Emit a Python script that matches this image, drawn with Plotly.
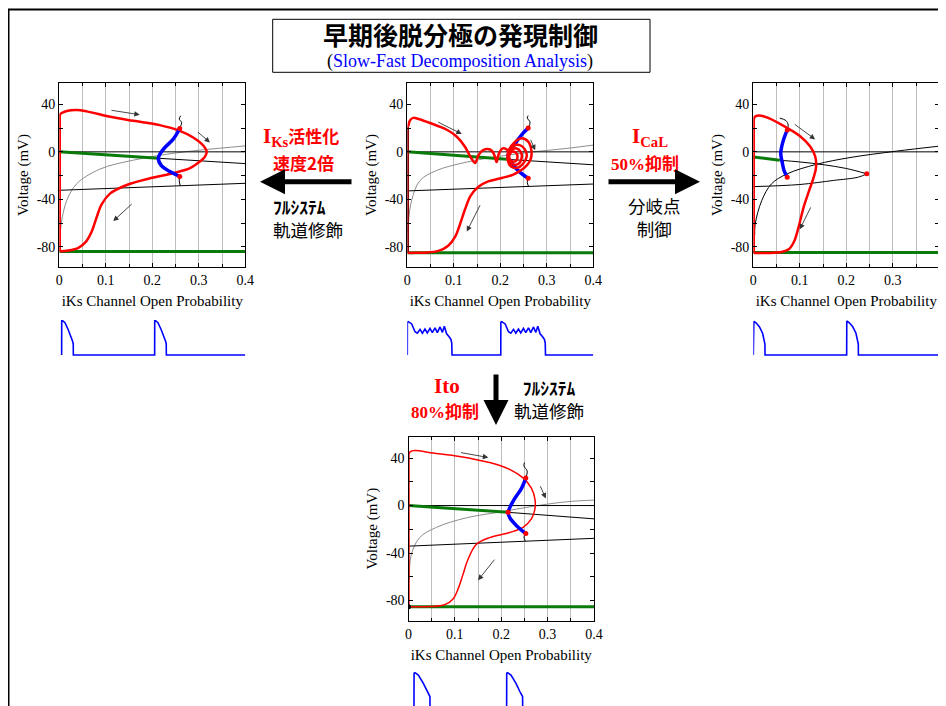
import plotly.graph_objects as go

W, H = 938, 698          # figure size; page body margin puts it at (8, 8) in the window
OFF = 8
SERIF = "Liberation Serif"
CJK = "Noto Sans CJK JP"

# ---------------- data ----------------
X_TICKS = [0, 0.1, 0.2, 0.3, 0.4]
X_TICK_TEXT = ["0", "0.1", "0.2", "0.3", "0.4"]
Y_TICKS = [-80, -40, 0, 40]
Y_TICK_TEXT = ["-80", "-40", "0", "40"]
X_TITLE = "iKs Channel Open Probability"
Y_TITLE = "Voltage (mV)"

# Panel 1 : IKs activation x2
P1_H_X = [0, 0.4]; P1_H_Y = [0, 0]
P1_DG_X = [0, 0.213]; P1_DG_Y = [0, -5.4]
P1_DB_X = [0.213, 0.4]; P1_DB_Y = [-5.4, -9.9]
P1_LOW_X = [0, 0.4]; P1_LOW_Y = [-32.4, -26.5]
P1_GRAY_X = [0.003, 0.005, 0.016, 0.037, 0.087, 0.159, 0.231, 0.302, 0.4]
P1_GRAY_Y = [-65, -58, -41, -27, -14.6, -7, -2, 1.4, 5]
P1_BLUE_X = [0.259, 0.245, 0.224, 0.213, 0.220, 0.238, 0.259]
P1_BLUE_Y = [19.7, 10.7, 2.3, -5.4, -11.8, -16.6, -20.8]
P1_TT_X = [0.259, 0.263, 0.258, 0.261]; P1_TT_Y = [19.7, 24.8, 27.6, 30.4]
P1_TB_X = [0.259, 0.258, 0.260]; P1_TB_Y = [-20.8, -24.5, -28.7]
P1_GB_X = [0, 0.4]; P1_GB_Y = [-84, -84]
P1_UP_X = [0.001, 0.001]; P1_UP_Y = [-83.7, 31.8]
P1_TR_X = [0.001, 0.005, 0.016, 0.037, 0.059, 0.109, 0.159, 0.216, 0.259, 0.288, 0.310, 0.317, 0.313,
           0.302, 0.281, 0.245, 0.195, 0.145, 0.109, 0.091, 0.080, 0.070, 0.057, 0.041, 0.019, 0.001]
P1_TR_Y = [31.8, 32.7, 34.4, 35.2, 34.1, 29.6, 26.2, 22.5, 17.7, 12.1, 5.1, 0, -4.2,
           -8.2, -13.8, -18.0, -22.3, -27.9, -35.2, -44.2, -55.5, -66.8, -75.8, -80.8, -83.1, -83.7]
P1_DOT_X = [0.259, 0.259]; P1_DOT_Y = [19.7, -20.8]
P1_ARR_TAIL_X = [0.109, 0.295, 0.159]; P1_ARR_TAIL_Y = [35.2, 17.7, -42.8]
P1_ARR_HEAD_X = [0.173, 0.324, 0.116]; P1_ARR_HEAD_Y = [31.3, 7.9, -58.3]

# Panel 2 : control (EAD)
P2_H_X = [0, 0.4]; P2_H_Y = [0, 0]
P2_DG_X = [0, 0.214]; P2_DG_Y = [0, -6.3]
P2_DB_X = [0.214, 0.4]; P2_DB_Y = [-6.3, -10.9]
P2_LOW_X = [0, 0.4]; P2_LOW_Y = [-32.9, -27.1]
P2_GRAY_X = [0.001, 0.002, 0.009, 0.027, 0.063, 0.128, 0.199, 0.271, 0.343, 0.4]
P2_GRAY_Y = [-68, -61.4, -41.4, -24.3, -15.7, -8.6, -3.7, 0, 2.9, 5.7]
P2_BLUE_X = [0.260, 0.249, 0.232, 0.219, 0.217, 0.228, 0.242, 0.260]
P2_BLUE_Y = [20, 15.7, 7.1, 0, -4.9, -11.4, -17.1, -22.3]
P2_TT_X = [0.260, 0.264, 0.258, 0.260]; P2_TT_Y = [20, 24.9, 28.6, 30.6]
P2_TB_X = [0.260, 0.258, 0.261]; P2_TB_Y = [-22.3, -25.7, -29.4]
P2_GB_X = [0, 0.4]; P2_GB_Y = [-85, -85]
P2_UP_X = [0.001, 0.001]; P2_UP_Y = [-85.1, 21.4]
P2_TR_X = [0.002, 0.006, 0.013, 0.024, 0.049, 0.085, 0.106, 0.124, 0.136, 0.146, 0.153, 0.163, 0.178,
           0.186, 0.192, 0.197, 0.205, 0.214, 0.219, 0.224, 0.233, 0.237, 0.232, 0.222, 0.219, 0.224,
           0.235, 0.244, 0.246, 0.239, 0.227, 0.218, 0.219, 0.228, 0.242, 0.253, 0.257, 0.249, 0.237,
           0.223, 0.216, 0.218, 0.232, 0.246, 0.260, 0.267, 0.265, 0.257, 0.246, 0.228, 0.203, 0.174,
           0.153, 0.136, 0.124, 0.113, 0.103, 0.088, 0.067, 0.038, 0.013, 0.001]
P2_TR_Y = [21.4, 26.6, 28.6, 27.7, 24.3, 18.6, 12.9, 4.3, -4.3, -9.4, -2.9, 1.4, 2.0,
           -1.4, -8.6, -1.4, 2.9, 2.0, -2.9, 0, -0.6, -4.3, -8.0, -7.1, -3.7, 1.4,
           2.9, 0, -4.9, -10.0, -10.6, -6.6, 0, 4.9, 5.7, 2.0, -3.7, -10.0, -13.4,
           -12.3, -7.1, 0.9, 8.6, 11.4, 8.6, 0.9, -6.6, -11.4, -15.1, -19.1, -22.0, -24.9,
           -29.4, -37.1, -48.6, -61.4, -71.4, -79.1, -83.4, -84.9, -85.1, -85.1]
P2_DOT_X = [0.260, 0.260]; P2_DOT_Y = [20, -22.3]
P2_ARR_TAIL_X = [0.063, 0.264, 0.158]; P2_ARR_TAIL_Y = [25.7, 11.4, -43.7]
P2_ARR_HEAD_X = [0.117, 0.275, 0.128]; P2_ARR_HEAD_Y = [15.1, 1.4, -67.1]

# Panel 3 : ICaL 50% block
P3_H_X = [0, 0.4]; P3_H_Y = [0, 0]
P3_XN_X = [0.003, 0.004, 0.018, 0.039, 0.073, 0.136, 0.208, 0.308, 0.4]
P3_XN_Y = [-70, -61, -41.2, -27.0, -18.5, -10.5, -4.8, 0.6, 4.8]
P3_UG_X = [0, 0.057]; P3_UG_Y = [-4.3, -7.1]
P3_UB_X = [0.057, 0.1, 0.15, 0.2, 0.244]; P3_UB_Y = [-7.1, -8.5, -10.8, -14.0, -18.5]
P3_LOW_X = [0, 0.1, 0.172, 0.226, 0.244]; P3_LOW_Y = [-29.3, -27.5, -24.1, -21.3, -18.5]
P3_BLUE_X = [0.073, 0.066, 0.061, 0.059, 0.062, 0.066, 0.073]
P3_BLUE_Y = [18.5, 11.4, 4.3, -1.4, -8.5, -15.6, -21.3]
P3_TT_X = [0.073, 0.075, 0.070, 0.057]; P3_TT_Y = [18.5, 22.7, 26.4, 28.4]
P3_GB_X = [0, 0.4]; P3_GB_Y = [-84.7, -84.7]
P3_UP_X = [0.001, 0.001]; P3_UP_Y = [-85.2, 27.6]
P3_TR_X = [0.001, 0.004, 0.013, 0.029, 0.065, 0.100, 0.122, 0.133, 0.135, 0.130, 0.120, 0.108,
           0.097, 0.088, 0.077, 0.061, 0.029, 0.001]
P3_TR_Y = [27.6, 29.8, 30.7, 29.0, 21.9, 13.4, 4.8, -3.7, -12.8, -21.3, -32.7, -46.9,
           -63.9, -75.3, -81.8, -84.4, -85.2, -85.2]
P3_DOT_X = [0.073, 0.073, 0.244]; P3_DOT_Y = [18.5, -21.3, -18.5]
P3_ARR_TAIL_X = [0.086, 0.125]; P3_ARR_TAIL_Y = [24.1, -45.5]
P3_ARR_HEAD_X = [0.133, 0.100]; P3_ARR_HEAD_Y = [10.5, -65.3]

# Panel 4 : Ito 80% block
P4_H_X = [0, 0.4]; P4_H_Y = [0, 0]
P4_DG_X = [0, 0.215]; P4_DG_Y = [0, -5.7]
P4_DB_X = [0.215, 0.4]; P4_DB_Y = [-5.7, -11.2]
P4_LOW_X = [0, 0.4]; P4_LOW_Y = [-34.2, -27.6]
P4_GRAY_X = [0.001, 0.002, 0.006, 0.024, 0.060, 0.125, 0.197, 0.269, 0.341, 0.4]
P4_GRAY_Y = [-65, -55.7, -41.4, -27.0, -18.4, -10.3, -5.5, -0.6, 3.2, 4.6]
P4_BLUE_X = [0.253, 0.244, 0.226, 0.215, 0.218, 0.233, 0.253]
P4_BLUE_Y = [23.3, 14.7, 4.0, -5.7, -10.0, -17.0, -23.6]
P4_TT_X = [0.253, 0.256, 0.249, 0.250]; P4_TT_Y = [23.3, 29.0, 33.3, 36.2]
P4_TB_X = [0.253, 0.249, 0.252]; P4_TB_Y = [-23.6, -26.4, -29.9]
P4_GB_X = [0, 0.4]; P4_GB_Y = [-85.3, -85.3]
P4_UP_X = [0.001, 0.001]; P4_UP_Y = [-85.3, 43.4]
P4_TR_X = [0.001, 0.004, 0.013, 0.053, 0.110, 0.175, 0.218, 0.247, 0.265, 0.273, 0.272, 0.265,
           0.247, 0.218, 0.175, 0.146, 0.128, 0.117, 0.107, 0.096, 0.078, 0.045, 0.001]
P4_TR_Y = [43.4, 45.4, 46.3, 44.3, 41.4, 36.2, 30.5, 23.3, 14.7, 4.6, -4.0, -11.2,
           -18.4, -22.7, -27.0, -32.8, -45.7, -58.6, -70.1, -78.7, -83.6, -85.1, -85.3]
P4_DOT_X = [0.253, 0.253, 0.215]; P4_DOT_Y = [23.3, -23.6, -5.7]
P4_BDOT_X = [0.0]; P4_BDOT_Y = [-85.3]
P4_ARR_TAIL_X = [0.110, 0.283, 0.188]; P4_ARR_TAIL_Y = [44.8, 17.5, -44.3]
P4_ARR_HEAD_X = [0.172, 0.296, 0.150]; P4_ARR_HEAD_Y = [40.5, 6.0, -62.9]

# Action potential traces (time ms, voltage mV)
AP1_T = [25, 26, 36, 61, 97, 126, 144, 150, 151, 1025, 1026, 1036, 1061, 1097, 1126, 1144, 1150, 1151, 2000]
AP1_V = [-85, 30, 30, 23, -1, -23, -40, -48, -85, -85, 30, 30, 23, -1, -23, -40, -48, -85, -85]
AP2_T = [0, 1, 11, 47, 83, 108, 137, 162, 190, 215, 244, 269, 298, 323, 352, 377, 398, 423, 452, 470, 478, 481,
         1005, 1006, 1016, 1052, 1088, 1113, 1142, 1167, 1195, 1220, 1249, 1274, 1303, 1328, 1357, 1382, 1403,
         1428, 1457, 1475, 1483, 1486, 2000]
AP2_V = [-85, 25, 27, 19, -7, -12, 1, -12, 2, -11, 4, -10, 6, -10, 9, -9, 11, -14, -25, -33, -45, -85,
         -85, 25, 27, 19, -7, -12, 1, -12, 2, -11, 4, -10, 6, -10, 9, -9, 11,
         -14, -25, -33, -45, -85, -85]
AP3_T = [0, 1, 6, 29, 65, 100, 119, 125, 126, 1004, 1005, 1010, 1033, 1069, 1104, 1123, 1129, 1130, 2000]
AP3_V = [-85, 27, 28, 23, 10, -12, -40, -48, -85, -85, 27, 28, 23, 10, -12, -40, -48, -85, -85]
AP4_T = [59, 60, 70, 106, 160, 203, 224, 231, 232, 1058, 1059, 1069, 1105, 1159, 1202, 1223, 1230, 1231, 2000]
AP4_V = [-85, 28, 30, 22, -6, -34, -45, -50, -85, -85, 28, 30, 22, -6, -34, -45, -50, -85, -85]

# ---------------- layout geometry (window pixels) ----------------
PANEL_PX = [(59.3, 245.3, 83, 267), (407.3, 593.3, 83, 267),
            (753.3, 939.3, 83, 267), (408.5, 594.0, 436.7, 620.7)]
AP_PX = [(59.3, 245.3, 319.2, 356.5), (407.3, 593.3, 319.2, 356.5),
         (753.3, 939.3, 319.2, 356.5), (408.5, 594.0, 671.2, 706)]
AP_YR = [[-90, 35], [-90, 35], [-90, 35], [-81.8, 35]]


def fx(p):
    return (p - OFF) / W


def fy(p):
    return 1 - (p - OFF) / H


RED = "#ff0000"
GREEN = "#0a7a0a"
BLUE = "#0000ff"
GRAY = "#8c8c8c"

fig = go.Figure()


def line(n, x, y, color, width, shape="linear"):
    fig.add_trace(go.Scatter(x=x, y=y, mode="lines", xaxis=f"x{n}", yaxis=f"y{n}",
                             line=dict(color=color, width=width, shape=shape),
                             hoverinfo="skip", showlegend=False))


def dots(n, x, y, color, size=5):
    fig.add_trace(go.Scatter(x=x, y=y, mode="markers", xaxis=f"x{n}", yaxis=f"y{n}",
                             marker=dict(color=color, size=size), hoverinfo="skip", showlegend=False))


def arrows(n, tx, ty, hx, hy):
    for a, b, c, d in zip(tx, ty, hx, hy):
        fig.add_annotation(x=c, y=d, ax=a, ay=b, xref=f"x{n}", yref=f"y{n}",
                           axref=f"x{n}", ayref=f"y{n}", text="", showarrow=True,
                           arrowhead=2, arrowsize=1.2, arrowwidth=0.9, arrowcolor="#333333")


# Panel 1
line(1, P1_GRAY_X, P1_GRAY_Y, GRAY, 1, "spline")
line(1, P1_H_X, P1_H_Y, "black", 1)
line(1, P1_DB_X, P1_DB_Y, "black", 1)
line(1, P1_LOW_X, P1_LOW_Y, "black", 1)
line(1, P1_TT_X, P1_TT_Y, "black", 1, "spline")
line(1, P1_TB_X, P1_TB_Y, "black", 1, "spline")
line(1, P1_DG_X, P1_DG_Y, GREEN, 3)
line(1, P1_GB_X, P1_GB_Y, GREEN, 3)
line(1, P1_UP_X, P1_UP_Y, RED, 2.5)
line(1, P1_TR_X, P1_TR_Y, RED, 2.5, "spline")
line(1, P1_BLUE_X, P1_BLUE_Y, BLUE, 3.5, "spline")
dots(1, P1_DOT_X, P1_DOT_Y, RED)
arrows(1, P1_ARR_TAIL_X, P1_ARR_TAIL_Y, P1_ARR_HEAD_X, P1_ARR_HEAD_Y)

# Panel 2
line(2, P2_GRAY_X, P2_GRAY_Y, GRAY, 1, "spline")
line(2, P2_H_X, P2_H_Y, "black", 1)
line(2, P2_DB_X, P2_DB_Y, "black", 1)
line(2, P2_LOW_X, P2_LOW_Y, "black", 1)
line(2, P2_TT_X, P2_TT_Y, "black", 1, "spline")
line(2, P2_TB_X, P2_TB_Y, "black", 1, "spline")
line(2, P2_DG_X, P2_DG_Y, GREEN, 3)
line(2, P2_GB_X, P2_GB_Y, GREEN, 3)
line(2, P2_BLUE_X, P2_BLUE_Y, BLUE, 3.5, "spline")
line(2, P2_UP_X, P2_UP_Y, "#8b0000", 2.5)
line(2, P2_TR_X, P2_TR_Y, RED, 2.5, "spline")
dots(2, P2_DOT_X, P2_DOT_Y, RED)
arrows(2, P2_ARR_TAIL_X, P2_ARR_TAIL_Y, P2_ARR_HEAD_X, P2_ARR_HEAD_Y)

# Panel 3
line(3, P3_H_X, P3_H_Y, "black", 1)
line(3, P3_XN_X, P3_XN_Y, "black", 1, "spline")
line(3, P3_UB_X, P3_UB_Y, "black", 1, "spline")
line(3, P3_LOW_X, P3_LOW_Y, "black", 1, "spline")
line(3, P3_TT_X, P3_TT_Y, "black", 1, "spline")
line(3, P3_UG_X, P3_UG_Y, GREEN, 3)
line(3, P3_GB_X, P3_GB_Y, GREEN, 3)
line(3, P3_UP_X, P3_UP_Y, RED, 2.5)
line(3, P3_TR_X, P3_TR_Y, RED, 2.5, "spline")
line(3, P3_BLUE_X, P3_BLUE_Y, BLUE, 3.5, "spline")
dots(3, P3_DOT_X, P3_DOT_Y, RED)
arrows(3, P3_ARR_TAIL_X, P3_ARR_TAIL_Y, P3_ARR_HEAD_X, P3_ARR_HEAD_Y)

# Panel 4
line(4, P4_GRAY_X, P4_GRAY_Y, GRAY, 1, "spline")
line(4, P4_H_X, P4_H_Y, "black", 1)
line(4, P4_DB_X, P4_DB_Y, "black", 1)
line(4, P4_LOW_X, P4_LOW_Y, "black", 1)
line(4, P4_TT_X, P4_TT_Y, "black", 1, "spline")
line(4, P4_TB_X, P4_TB_Y, "black", 1, "spline")
line(4, P4_DG_X, P4_DG_Y, GREEN, 3)
line(4, P4_GB_X, P4_GB_Y, GREEN, 3)
line(4, P4_UP_X, P4_UP_Y, RED, 1.5)
line(4, P4_TR_X, P4_TR_Y, RED, 1.5, "spline")
line(4, P4_BLUE_X, P4_BLUE_Y, BLUE, 3.5, "spline")
dots(4, P4_DOT_X, P4_DOT_Y, RED)
dots(4, P4_BDOT_X, P4_BDOT_Y, "black")
arrows(4, P4_ARR_TAIL_X, P4_ARR_TAIL_Y, P4_ARR_HEAD_X, P4_ARR_HEAD_Y)

# AP traces
for i, (t, v) in enumerate([(AP1_T, AP1_V), (AP2_T, AP2_V), (AP3_T, AP3_V), (AP4_T, AP4_V)]):
    line(5 + i, t, v, BLUE, 1.6)

layout = dict(width=W, height=H, margin=dict(l=0, r=0, t=0, b=0),
              paper_bgcolor="white", plot_bgcolor="white", showlegend=False)

tickfont = dict(family=SERIF, size=14, color="black")
titlefont = dict(family=SERIF, size=15, color="black")
for i, (x0, x1, y0, y1) in enumerate(PANEL_PX):
    n = i + 1
    sx = "" if n == 1 else str(n)
    layout[f"xaxis{sx}"] = dict(
        domain=[fx(x0), fx(x1)], anchor=f"y{n}", range=[0, 0.4],
        tickmode="array", tickvals=X_TICKS, ticktext=X_TICK_TEXT,
        showline=True, linecolor="black", linewidth=1.3, mirror="ticks",
        ticks="inside", ticklen=4, tickcolor="black", tickfont=tickfont,
        showgrid=True, gridcolor="#bdbdbd", gridwidth=1.2, zeroline=False,
        minor=dict(tickmode="linear", tick0=0, dtick=0.05, showgrid=True,
                   gridcolor="#bdbdbd", gridwidth=1.2, ticks="inside", ticklen=3, tickcolor="black"),
        title=dict(text=X_TITLE, font=titlefont, standoff=8), automargin=False, fixedrange=True)
    layout[f"yaxis{sx}"] = dict(
        domain=[fy(y1), fy(y0)], anchor=f"x{n}", range=[-97, 58],
        tickmode="array", tickvals=Y_TICKS, ticktext=Y_TICK_TEXT,
        showline=True, linecolor="black", linewidth=1.3, mirror="ticks",
        ticks="inside", ticklen=4, tickcolor="black", tickfont=tickfont,
        showgrid=False, zeroline=False,
        minor=dict(tickmode="linear", tick0=0, dtick=20, ticks="inside", ticklen=4, tickcolor="black"),
        title=dict(text=Y_TITLE, font=titlefont, standoff=4), automargin=False, fixedrange=True)

for i, (x0, x1, y0, y1) in enumerate(AP_PX):
    n = 5 + i
    layout[f"xaxis{n}"] = dict(domain=[fx(x0), min(1, fx(x1))], anchor=f"y{n}", range=[0, 2000], visible=False)
    layout[f"yaxis{n}"] = dict(domain=[max(0, fy(y1)), fy(y0)], anchor=f"x{n}", range=AP_YR[i], visible=False)

fig.update_layout(**layout)

# outer frame and title box
fig.add_shape(type="line", xref="paper", yref="paper", x0=fx(8), x1=1.0, y0=fy(9.5), y1=fy(9.5),
              line=dict(color="black", width=2))
fig.add_shape(type="line", xref="paper", yref="paper", x0=fx(8.5), x1=fx(8.5), y0=fy(9.5), y1=0,
              line=dict(color="black", width=2))
fig.add_shape(type="rect", xref="paper", yref="paper", x0=fx(272.7), x1=fx(650), y0=fy(72.3), y1=fy(19.3),
              line=dict(color="black", width=1))


def text(x, y, s, size, color="black", family=CJK, xanchor="center", align="center"):
    fig.add_annotation(x=fx(x), y=fy(y), xref="paper", yref="paper", text=s, showarrow=False,
                       xanchor=xanchor, yanchor="middle", borderpad=0, align=align,
                       font=dict(family=family, size=size, color=color))


def big_arrow(tip_x, tip_y, dx, dy):
    fig.add_annotation(x=fx(tip_x), y=fy(tip_y), xref="paper", yref="paper", ax=dx, ay=dy,
                       text="", showarrow=True, arrowhead=2, arrowsize=1, arrowwidth=5,
                       arrowcolor="black", standoff=0)


text(460, 34, "<b>早期後脱分極の発現制御</b>", 25)
text(460, 62, '(<span style="color:#0000ff">Slow-Fast Decomposition Analysis</span>)', 18, family=SERIF)

SER_B = '<span style="font-family:Liberation Serif;font-size:21px">'
SER_N = '<span style="font-family:Liberation Serif">'
text(301, 137, f"<b>{SER_B}I<sub>Ks</sub></span>活性化</b>", 17, RED)
text(303, 162, "<b>速度2倍</b>", 17, RED)
big_arrow(260, 181.7, 93, 0)
text(271.7, 218, "<b>ﾌﾙｼｽﾃﾑ</b><br>軌道修飾", 17.5, xanchor="left", align="left")

text(650, 137, f"<b>{SER_B}I<sub>CaL</sub></span></b>", 17, RED)
text(645, 162, f"<b>{SER_N}50%</span>抑制</b>", 17, RED)
big_arrow(700, 181.7, -93, 0)
text(654.5, 216.5, "分岐点<br>制御", 17.5)

text(446.7, 386, f"<b>{SER_B}Ito</span></b>", 17, RED)
text(445, 411, f"<b>{SER_N}80%</span>抑制</b>", 17, RED)
big_arrow(496, 425, 0, -52)
text(549, 398.5, "<b>ﾌﾙｼｽﾃﾑ</b><br>軌道修飾", 17.5)

fig.write_html("out.html")
